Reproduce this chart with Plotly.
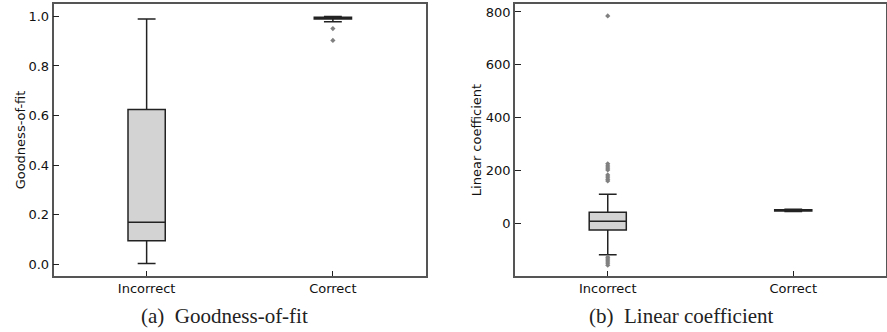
import plotly.graph_objects as go

# ---- data ----
categories = ["Incorrect", "Correct"]

# Panel (a): Goodness-of-fit
gof_q1 = [0.095, 0.990]
gof_median = [0.170, 0.994]
gof_q3 = [0.625, 0.997]
gof_lower = [0.003, 0.978]
gof_upper = [0.990, 1.000]
gof_outlier_cat = ["Correct", "Correct"]
gof_outlier_val = [0.951, 0.903]

# Panel (b): Linear coefficient
lin_q1 = [-24, 48]
lin_median = [9, 50]
lin_q3 = [43, 52]
lin_lower = [-118, 46]
lin_upper = [111, 54]
lin_outlier_cat = ["Incorrect"] * 14
lin_outlier_val = [785, 226, 218, 210, 203, 184, 176, 168, 161,
                   -127, -134, -141, -149, -157]

gof_ticks = [0.0, 0.2, 0.4, 0.6, 0.8, 1.0]
lin_ticks = [0, 200, 400, 600, 800]

BOX_FILL = "#d3d3d3"
LINE = "#222222"
FRAME = "#555555"
OUTLIER = "#808080"
FONT = "DejaVu Sans"

fig = go.Figure()

def add_panel(xa, ya, q1, med, q3, lo, hi, ocat, oval):
    fig.add_trace(go.Box(
        x=categories, q1=q1, median=med, q3=q3,
        lowerfence=lo, upperfence=hi,
        width=0.2, whiskerwidth=0.48,
        fillcolor=BOX_FILL, line=dict(color=LINE, width=1.5),
        boxpoints=False, showlegend=False, xaxis=xa, yaxis=ya,
        hoverinfo="skip",
    ))
    fig.add_trace(go.Scatter(
        x=ocat, y=oval, mode="markers",
        marker=dict(symbol="diamond", size=4, color=OUTLIER),
        showlegend=False, xaxis=xa, yaxis=ya, hoverinfo="skip",
    ))

add_panel("x", "y", gof_q1, gof_median, gof_q3, gof_lower, gof_upper,
          gof_outlier_cat, gof_outlier_val)
add_panel("x2", "y2", lin_q1, lin_median, lin_q3, lin_lower, lin_upper,
          lin_outlier_cat, lin_outlier_val)

W, H = 887, 332
ytop = 1 - 4 / H
ybot = 1 - 276 / H

xcommon = dict(
    type="category", categoryorder="array", categoryarray=categories,
    range=[-0.5, 1.5], showgrid=False, zeroline=False,
    showline=True, linecolor=FRAME, linewidth=1.5, mirror=True,
    ticks="inside", ticklen=5, tickcolor=LINE, tickwidth=1,
    tickfont=dict(family=FONT, size=13, color="#111111"),
)
ycommon = dict(
    showgrid=False, zeroline=False,
    showline=True, linecolor=FRAME, linewidth=1.5, mirror=True,
    ticks="inside", ticklen=6, tickcolor=LINE, tickwidth=1,
    tickfont=dict(family=FONT, size=13, color="#111111"),
)

fig.update_layout(
    width=W, height=H,
    margin=dict(l=0, r=0, t=0, b=0),
    paper_bgcolor="white", plot_bgcolor="white",
    font=dict(family=FONT, color="#111111"),
    xaxis=dict(domain=[53.5 / W, 426 / W], anchor="y", **xcommon),
    xaxis2=dict(domain=[515 / W, 886 / W], anchor="y2", **xcommon),
    yaxis=dict(domain=[ybot, ytop], anchor="x", range=[-0.047, 1.05],
               tickvals=gof_ticks, tickformat=".1f",
               title=dict(text="Goodness-of-fit", standoff=0,
                          font=dict(family=FONT, size=13, color="#111111")),
               **ycommon),
    yaxis2=dict(domain=[ybot, ytop], anchor="x2", range=[-198, 830],
                tickvals=lin_ticks,
                title=dict(text="Linear coefficient", standoff=1,
                           font=dict(family=FONT, size=13, color="#111111")),
                **ycommon),
    annotations=[
        dict(text="(a)&nbsp;&nbsp;Goodness-of-fit", x=224 / W, y=1 - 316 / H,
             xref="paper", yref="paper", xanchor="center", yanchor="middle",
             showarrow=False,
             font=dict(family="Liberation Serif", size=21, color="#222222")),
        dict(text="(b)&nbsp;&nbsp;Linear coefficient", x=681 / W, y=1 - 316 / H,
             xref="paper", yref="paper", xanchor="center", yanchor="middle",
             showarrow=False,
             font=dict(family="Liberation Serif", size=21, color="#222222")),
    ],
)

fig.write_html("out.html")
